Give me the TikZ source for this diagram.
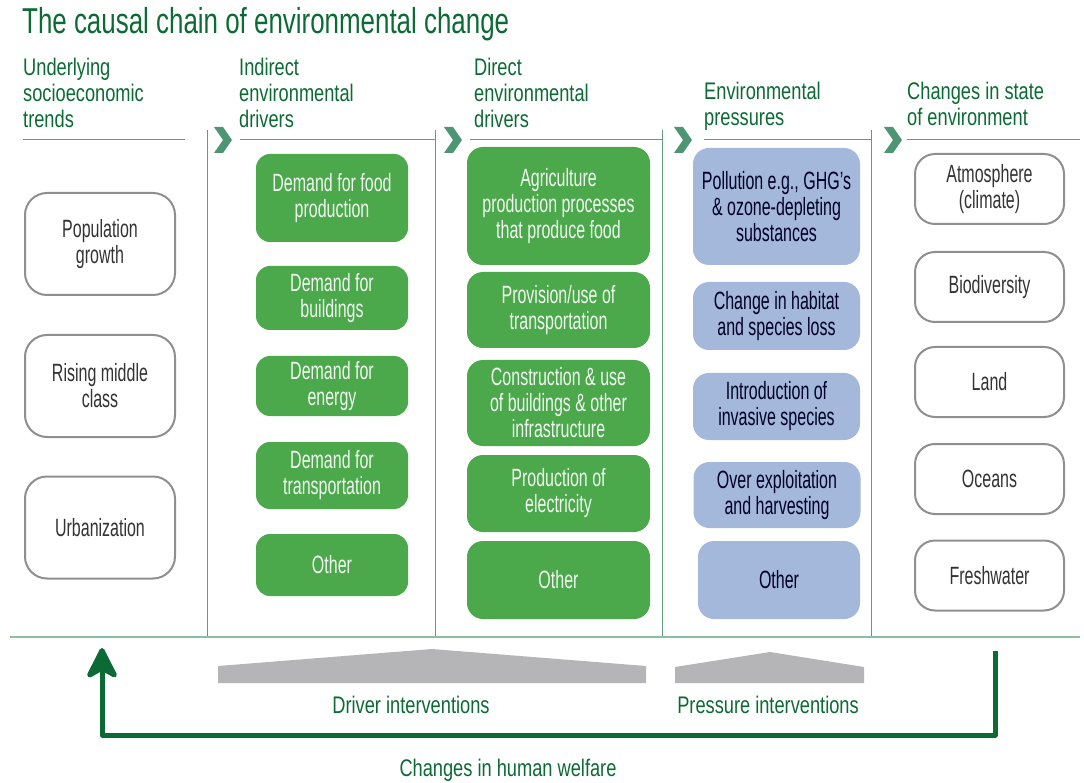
\documentclass[tikz,border=0pt]{standalone}
\usepackage{fontspec}
\setmainfont{Liberation Sans}[FakeStretch=0.64]
\newfontfamily\headfont{Liberation Sans}[FakeStretch=0.76]
\newfontfamily\titlefont{Liberation Sans}[FakeStretch=0.72]
\usepackage{xcolor}
\usepackage{tikz}
\definecolor{darkgreen}{HTML}{0C6A34}
\definecolor{sepgreen}{HTML}{5E9E78}
\definecolor{basegreen}{HTML}{8CC0A2}
\definecolor{chevgreen}{HTML}{4E9574}
\definecolor{boxgreen}{HTML}{4BA84B}
\definecolor{boxblue}{HTML}{A3B8DA}
\definecolor{boxgray}{HTML}{8F8F8F}
\definecolor{ivgray}{HTML}{B5B5B7}
\newcommand*{\chevron}[1]{\fill[chevgreen](#1,127)--++(9,0)--++(9,13)--++(-9,13)--++(-9,0)--++(9,-13)--cycle;}
\usetikzlibrary{arrows.meta}
\tikzset{
  cbox/.style={align=center,inner sep=0pt,font=\fontsize{25}{26}\selectfont},
  trend/.style={cbox,draw=boxgray,line width=2pt,fill=white,text=black!80,rounded corners=22pt,minimum width=150pt,minimum height=102pt},
  indirect/.style={cbox,fill=boxgreen,text=white!92!boxgreen,rounded corners=14pt,minimum width=152pt},
  direct/.style={cbox,fill=boxgreen,text=white!92!boxgreen,rounded corners=16pt,minimum width=183pt},
  pressure/.style={cbox,fill=boxblue,text=black!85!blue,rounded corners=16pt,minimum width=167pt},
  state/.style={cbox,draw=boxgray,line width=2pt,fill=white,text=black!80,rounded corners=20pt,minimum width=149pt,minimum height=70pt},
  head/.style={anchor=north west,align=left,inner sep=0pt,text=darkgreen,font=\headfont\fontsize{24}{26}\selectfont},
  ivlabel/.style={inner sep=0pt,text=darkgreen,font=\headfont\fontsize{24}{26}\selectfont},
  sep/.style={sepgreen,line width=1pt},
  welfare/.style={darkgreen,line width=5pt,line join=round,-{Stealth[length=36pt,width=36pt,inset=10pt,round]}}
}
\begin{document}
\begin{tikzpicture}[x=1pt,y=-1pt]
\useasboundingbox(0,0)rectangle(1084,783);
\node[anchor=north west,inner sep=0pt,text=darkgreen,font=\titlefont\fontsize{36}{40}\selectfont](title)at(22,7){The causal chain of environmental change};

\node[head](h1)at(23,58){Underlying\\socioeconomic\\trends};
\node[head](h2)at(239,58){Indirect\\environmental\\drivers};
\node[head](h3)at(474,58){Direct\\environmental\\drivers};
\node[head](h4)at(704,82){Environmental\\pressures};
\node[head](h5)at(907,82){Changes in state\\of environment};

\draw[sep](23,140)--(185,140);
\draw[sep](240,140)--(435,140);
\draw[sep](470,140)--(662,140);
\draw[sep](704,140)--(871,140);
\draw[sep](907,140)--(1080,140);
\foreach\x in{207,435,662,871}\draw[sep](\x,130)--(\x,637);
\draw[basegreen,line width=1.5pt](10,637)--(1080,637);
\foreach\x in{214,444,674,884}{\chevron{\x}}

\node[trend](pop)at(100,244){Population\\growth};
\node[trend](mid)at(100,386){Rising middle\\class};
\node[trend](urb)at(100,527.5){Urbanization};

\node[indirect,minimum height=88pt](dfood)at(332,198){Demand for food\\production};
\node[indirect,minimum height=64pt](dbuild)at(332,298){Demand for\\buildings};
\node[indirect,minimum height=60pt](denergy)at(332,386){Demand for\\energy};
\node[indirect,minimum height=67pt](dtrans)at(332,475.5){Demand for\\transportation};
\node[indirect,minimum height=62pt](dother)at(332,565){Other};

\node[direct,minimum height=118pt](agri)at(558.5,206){Agriculture\\production processes\\that produce food};
\node[direct,minimum height=76pt](transp)at(558.5,310){Provision/use of\\transportation};
\node[direct,minimum height=86pt](constr)at(558.5,403){Construction \& use\\of buildings \& other\\infrastructure};
\node[direct,minimum height=77pt](elec)at(558.5,493.5){Production of\\electricity};
\node[direct,minimum height=78pt](rother)at(558.5,580){Other};

\node[pressure,minimum height=117pt](poll)at(776.5,206.5){Pollution e.g., GHG's\\\& ozone-depleting\\substances};
\node[pressure,minimum height=68pt](habitat)at(776.5,316){Change in habitat\\and species loss};
\node[pressure,minimum height=67pt](invas)at(776.5,406.5){Introduction of\\invasive species};
\node[pressure,minimum height=66pt](overex)at(777,495){Over exploitation\\and harvesting};
\node[pressure,minimum width=162pt,minimum height=78pt](pother)at(779,580){Other};

\foreach\n/\y/\t in{atmo/189/{Atmosphere\\(climate)},biodiv/287/Biodiversity,land/382/Land,oceans/479/Oceans,fresh/575.5/Freshwater}
  \node[state](\n)at(989.5,\y){\t};

\fill[ivgray](218,683)--(218,666)--(432,649)--(646,666)--(646,683)--cycle;
\fill[ivgray](675,683)--(675,667)--(770,652)--(864,667)--(864,683)--cycle;
\node[ivlabel](driv)at(411,705){Driver interventions};
\node[ivlabel](presiv)at(768,705){Pressure interventions};
\node[ivlabel](welf)at(508,770){Changes in human welfare};

\coordinate(wstart)at(995,651);
\coordinate(wend)at(102,648);
\draw[welfare](wstart)--++(0,84)-|(wend);
\end{tikzpicture}
\end{document}
